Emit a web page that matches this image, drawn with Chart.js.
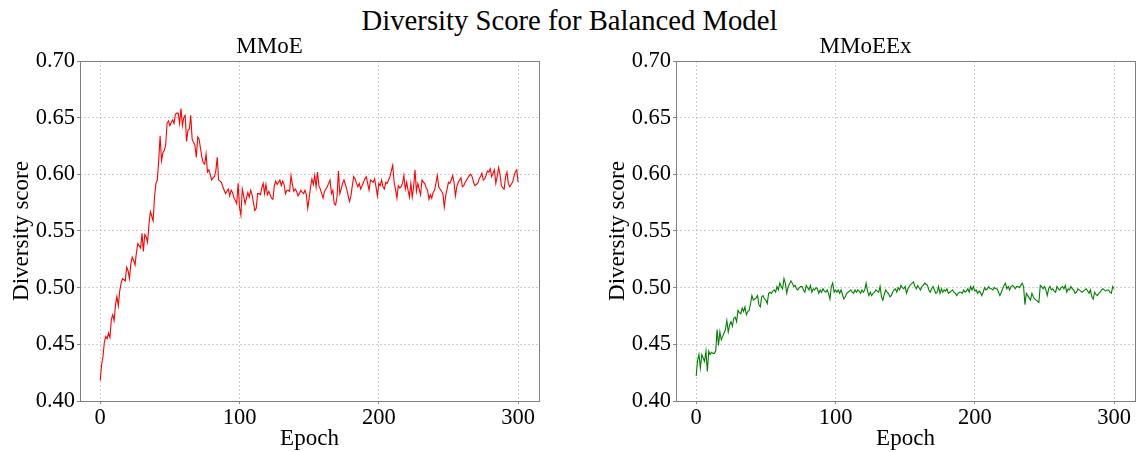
<!DOCTYPE html>
<html>
<head>
<meta charset="utf-8">
<script src="https://cdn.jsdelivr.net/npm/chart.js@4.4.1/dist/chart.umd.min.js"></script>
<style>
  html, body { margin: 0; padding: 0; background: #ffffff; }
  body { width: 1139px; height: 452px; position: relative; overflow: hidden; }
  #suptitle { position: absolute; left: 0; top: 3px; width: 1139px; text-align: center;
    font-family: "Liberation Serif", "DejaVu Serif", serif; font-size: 28.7px; line-height: 34px; color: #000; }
  .box { position: absolute; top: 0; height: 452px; }
</style>
</head>
<body>
<div id="suptitle">Diversity Score for Balanced Model</div>
<div class="box" style="left:0;width:570px;"><canvas id="c1" width="570" height="452"></canvas></div>
<div class="box" style="left:570px;width:569px;"><canvas id="c2" width="569" height="452"></canvas></div>
<script>
// ---- data ----
const subplotTitles = ["MMoE", "MMoEEx"];
const xTickValues = [0, 100, 200, 300];
const yTickValues = [0.40, 0.45, 0.50, 0.55, 0.60, 0.65, 0.70];

const mmoeScores = [
0.418,0.432,0.439,0.452,0.457,0.455,0.460,0.456,0.472,0.476,
0.471,0.485,0.492,0.484,0.497,0.504,0.508,0.507,0.506,0.518,
0.515,0.508,0.521,0.527,0.524,0.520,0.531,0.539,0.537,0.535,
0.548,0.532,0.547,0.545,0.540,0.556,0.567,0.563,0.559,0.580,
0.592,0.595,0.612,0.634,0.612,0.619,0.621,0.626,0.645,0.647,
0.643,0.646,0.648,0.645,0.653,0.654,0.654,0.645,0.658,0.643,
0.650,0.652,0.629,0.639,0.640,0.652,0.631,0.628,0.626,0.615,
0.633,0.631,0.623,0.615,0.610,0.609,0.618,0.602,0.604,0.600,
0.595,0.597,0.598,0.603,0.615,0.595,0.594,0.593,0.589,0.586,
0.583,0.585,0.587,0.581,0.586,0.584,0.579,0.577,0.574,0.592,
0.571,0.564,0.587,0.581,0.574,0.579,0.584,0.580,0.586,0.582,
0.575,0.568,0.570,0.583,0.583,0.582,0.588,0.592,0.583,0.591,
0.582,0.585,0.582,0.579,0.578,0.590,0.594,0.591,0.593,0.595,
0.590,0.594,0.591,0.583,0.586,0.586,0.585,0.599,0.591,0.585,
0.587,0.585,0.581,0.583,0.586,0.584,0.583,0.586,0.582,0.570,
0.579,0.589,0.596,0.591,0.599,0.589,0.602,0.590,0.587,0.583,
0.579,0.585,0.587,0.589,0.592,0.595,0.583,0.586,0.574,0.573,
0.580,0.603,0.583,0.587,0.592,0.595,0.591,0.587,0.581,0.576,
0.581,0.590,0.598,0.596,0.592,0.589,0.592,0.587,0.590,0.593,
0.596,0.598,0.592,0.586,0.595,0.594,0.593,0.596,0.589,0.581,
0.592,0.590,0.595,0.589,0.587,0.593,0.592,0.595,0.598,0.603,
0.608,0.593,0.587,0.579,0.590,0.588,0.589,0.592,0.599,0.587,
0.593,0.586,0.580,0.592,0.580,0.589,0.604,0.585,0.592,0.587,
0.582,0.595,0.593,0.592,0.588,0.586,0.578,0.582,0.579,0.584,
0.586,0.592,0.599,0.589,0.587,0.585,0.583,0.571,0.581,0.587,
0.593,0.592,0.595,0.599,0.593,0.581,0.589,0.593,0.595,0.597,
0.589,0.590,0.593,0.595,0.597,0.599,0.600,0.598,0.593,0.590,
0.591,0.592,0.596,0.598,0.601,0.595,0.596,0.599,0.603,0.602,
0.605,0.598,0.601,0.604,0.592,0.598,0.606,0.600,0.590,0.588,
0.587,0.598,0.602,0.592,0.589,0.591,0.593,0.598,0.602,0.604,
0.593
];

const mmoeexScores = [
0.422,0.436,0.441,0.429,0.441,0.438,0.435,0.444,0.426,0.444,
0.441,0.443,0.442,0.442,0.444,0.463,0.449,0.461,0.454,0.457,
0.460,0.463,0.471,0.461,0.467,0.470,0.466,0.473,0.474,0.470,
0.480,0.478,0.477,0.482,0.479,0.483,0.476,0.479,0.480,0.486,
0.493,0.489,0.490,0.491,0.493,0.485,0.483,0.492,0.493,0.490,
0.489,0.486,0.495,0.496,0.495,0.497,0.498,0.496,0.501,0.498,
0.504,0.501,0.499,0.508,0.504,0.495,0.501,0.503,0.506,0.504,
0.501,0.502,0.499,0.498,0.500,0.501,0.501,0.498,0.496,0.502,
0.500,0.498,0.502,0.496,0.499,0.498,0.500,0.499,0.495,0.498,
0.496,0.499,0.497,0.496,0.498,0.495,0.490,0.501,0.504,0.496,
0.498,0.496,0.498,0.495,0.498,0.494,0.490,0.492,0.495,0.496,
0.497,0.498,0.496,0.495,0.498,0.496,0.498,0.497,0.495,0.498,
0.496,0.498,0.504,0.497,0.493,0.496,0.493,0.495,0.496,0.498,
0.497,0.496,0.501,0.492,0.489,0.494,0.498,0.496,0.495,0.492,
0.493,0.496,0.498,0.499,0.496,0.500,0.498,0.502,0.500,0.499,
0.501,0.495,0.499,0.501,0.503,0.504,0.505,0.501,0.499,0.502,
0.500,0.498,0.501,0.502,0.504,0.503,0.502,0.498,0.496,0.499,
0.501,0.498,0.495,0.496,0.501,0.495,0.499,0.496,0.498,0.497,
0.499,0.495,0.496,0.497,0.498,0.496,0.495,0.493,0.495,0.496,
0.496,0.495,0.498,0.496,0.497,0.499,0.496,0.501,0.498,0.501,
0.497,0.498,0.495,0.497,0.496,0.493,0.496,0.500,0.498,0.499,
0.501,0.499,0.499,0.498,0.500,0.499,0.499,0.496,0.493,0.496,
0.499,0.502,0.504,0.499,0.501,0.498,0.501,0.502,0.501,0.499,
0.501,0.501,0.500,0.502,0.504,0.501,0.485,0.495,0.493,0.491,
0.489,0.495,0.492,0.490,0.489,0.488,0.487,0.502,0.501,0.499,
0.501,0.498,0.493,0.499,0.501,0.498,0.499,0.497,0.496,0.501,
0.499,0.498,0.500,0.501,0.499,0.502,0.496,0.499,0.498,0.501,
0.499,0.498,0.495,0.496,0.499,0.498,0.497,0.496,0.497,0.498,
0.499,0.497,0.495,0.498,0.492,0.490,0.496,0.494,0.493,0.495,
0.496,0.498,0.499,0.498,0.497,0.498,0.498,0.496,0.495,0.501,
0.499
];

// ---- rendering ----
const FONT = "'Liberation Serif', 'Times New Roman', serif";
Chart.defaults.font.family = FONT;
Chart.defaults.color = '#000000';

const frame = {
  id: 'frame',
  afterDatasetsDraw(chart) {
    const a = chart.chartArea, ctx = chart.ctx;
    ctx.save();
    ctx.strokeStyle = '#808080';
    ctx.lineWidth = 1;
    ctx.strokeRect(Math.round(a.left) + 0.5, Math.round(a.top) + 0.5,
                   Math.round(a.right - a.left), Math.round(a.bottom - a.top));
    ctx.restore();
  }
};

function makeChart(id, title, values, color, pad) {
  const pts = values.map((v, i) => ({ x: i, y: v }));
  return new Chart(document.getElementById(id), {
    type: 'line',
    data: { datasets: [{ data: pts, borderColor: color, borderWidth: 1.1,
      pointRadius: 0, tension: 0, fill: false }] },
    options: {
      responsive: false, animation: false, events: [],
      layout: { padding: pad },
      plugins: {
        legend: { display: false }, tooltip: { enabled: false },
        title: { display: true, text: title, color: '#000',
          font: { family: FONT, size: 23, weight: 'normal' }, padding: { top: 0, bottom: 0 } }
      },
      scales: {
        x: {
          type: 'linear', min: -14.5, max: 315,
          afterBuildTicks: s => { s.ticks = xTickValues.map(v => ({ value: v })); },
          afterFit: s => { s.height = 51; },
          ticks: { font: { size: 22.5 }, color: '#000', padding: 1, maxRotation: 0 },
          grid: { color: 'rgba(160,160,160,0.5)', lineWidth: 1, tickLength: 3,
                  tickColor: '#888', tickBorderDash: [] },
          border: { display: false, dash: [2, 2] },
          title: { display: true, text: 'Epoch', color: '#000',
                   font: { size: 23 }, padding: { top: 0, bottom: -1 } }
        },
        y: {
          min: 0.40, max: 0.70,
          afterBuildTicks: s => { s.ticks = yTickValues.map(v => ({ value: v })); },
          afterFit: s => { s.width = 80; },
          ticks: { font: { size: 22.5 }, color: '#000', padding: 2,
                   callback: v => Number(v).toFixed(2) },
          grid: { color: 'rgba(160,160,160,0.5)', lineWidth: 1, tickLength: 3,
                  tickColor: '#888', tickBorderDash: [] },
          border: { display: false, dash: [2, 2] },
          title: { display: true, text: 'Diversity score', color: '#000',
                   font: { size: 23 }, padding: { top: 8, bottom: 0 } }
        }
      }
    },
    plugins: [frame]
  });
}

makeChart('c1', subplotTitles[0], mmoeScores, '#ff0000', { left: 0, right: 31, top: 33.4, bottom: 0 });
makeChart('c2', subplotTitles[1], mmoeexScores, '#008000', { left: 26, right: 4, top: 33.4, bottom: 0 });
</script>
</body>
</html>
